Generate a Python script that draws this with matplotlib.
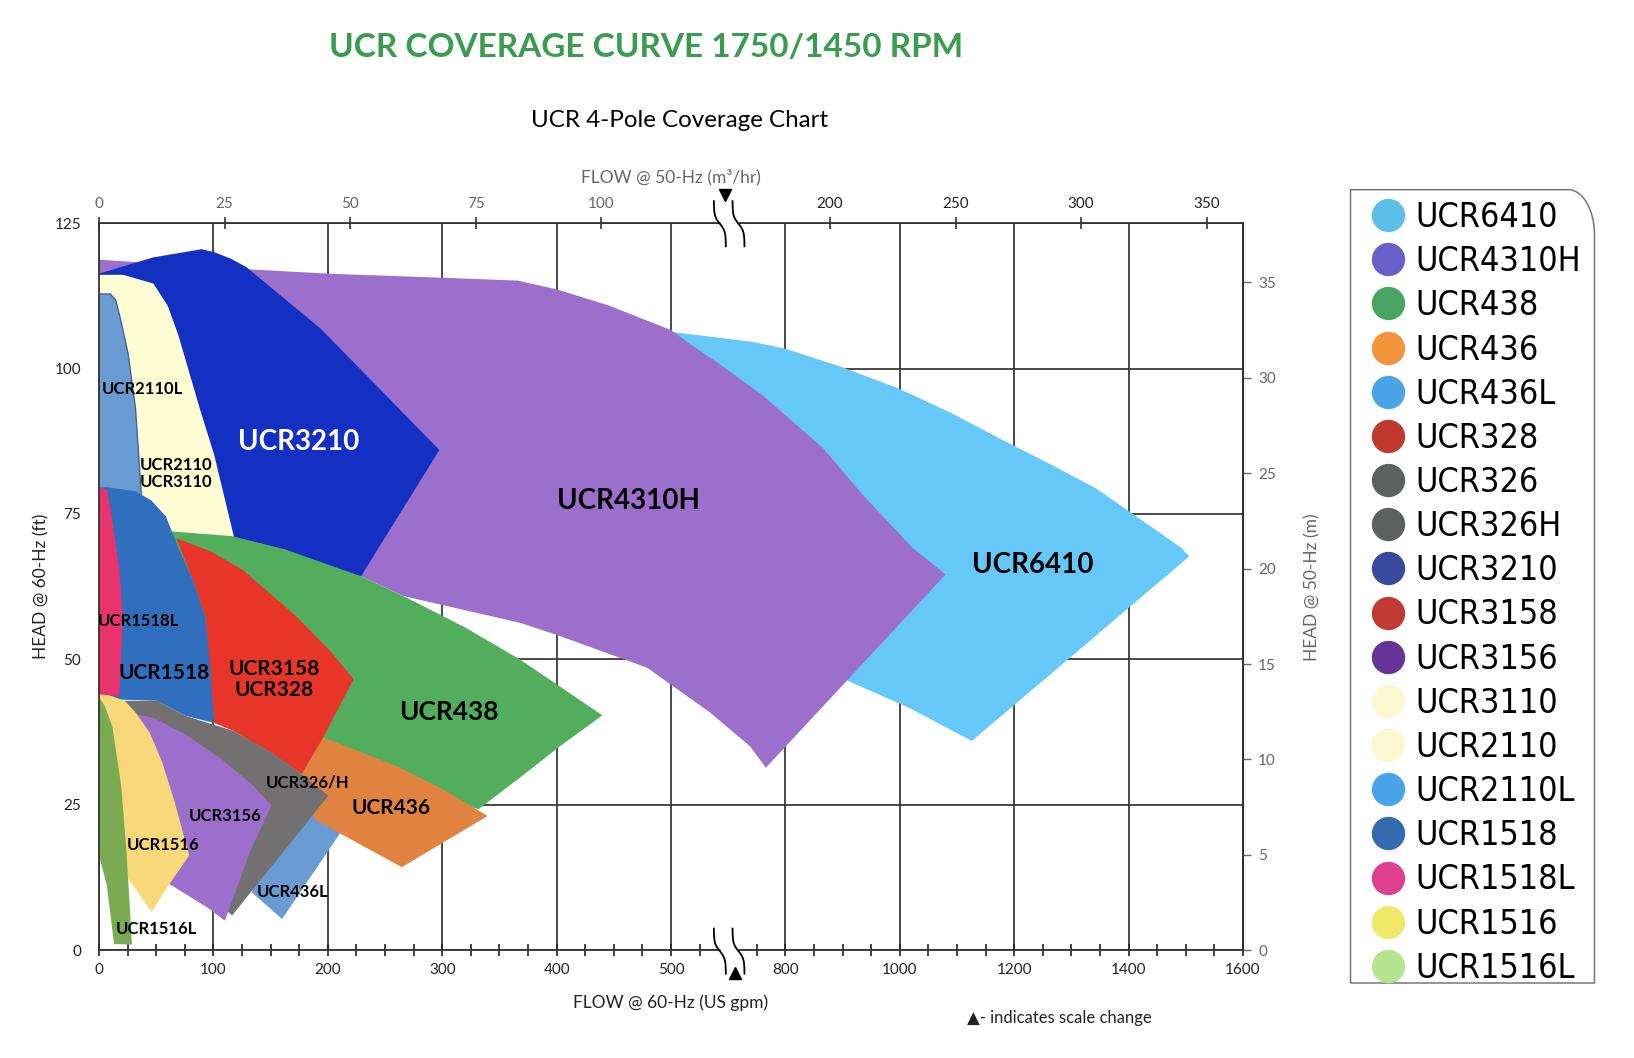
import numpy as np
import matplotlib
matplotlib.use('Agg')
import matplotlib.pyplot as plt
from matplotlib import font_manager
from matplotlib.patches import Polygon, PathPatch
from matplotlib.path import Path
from matplotlib.lines import Line2D

plt.rcParams['font.family'] = ['Lato', 'DejaVu Sans']

# ---- coverage areas, (flow gpm @60Hz, head ft @60Hz) ----
ucr6410 = [(500, 106.3), (741, 104.6), (800, 103.4), (897, 100.3), (997, 96.6),
           (1091, 92.3), (1174, 88.0), (1266, 83.4), (1343, 79.4), (1400, 75.5),
           (1492, 69.2), (1506, 67.7), (1126, 36.0), (1016, 41.7), (910, 46.3),
           (850, 50), (500, 95)]
ucr4310h = [(0, 118.7), (126, 117.1), (200, 116.3), (300, 115.6), (366, 115.1),
            (400, 113.6), (446, 110.8), (500, 106.6), (518, 104.0), (540, 101.1),
            (760, 95.4), (866, 86.3), (935, 78.3), (1022, 69.2), (1080, 64.6),
            (766, 31.4), (738, 35.1), (534, 40.9), (479, 48.6), (399, 54.3),
            (368, 56.3), (266, 60.9), (229, 64.3), (150, 75), (0, 90)]
ucr3210 = [(0, 116.3), (47.5, 119.1), (89.7, 120.5), (100.6, 120.0), (116, 118.8),
           (129, 117.4), (194, 106.8), (297.5, 86.0), (229, 64.3), (163, 67.5),
           (116, 69.5), (66, 70), (0, 70)]
ucr2110 = [(0, 116.1), (21, 116.1), (47.5, 114.6), (60, 110.8), (69.4, 105.7),
           (88.1, 93.1), (100.6, 85.2), (117.8, 71.2), (120, 69), (0, 69)]
ucr2110l = [(0, 112.8), (10, 112.8), (14.7, 111.7), (19.4, 108.0), (25.6, 102.3),
            (31.9, 93.1), (36.6, 79.4), (37.5, 76), (0, 76)]
ucr438 = [(63, 72.0), (116, 71.2), (163, 68.9), (213, 65.4), (229, 64.3),
          (270, 60.5), (320, 55.5), (368, 50.0), (440, 40.4), (403, 35.1),
          (368, 29.7), (332, 24.3), (260, 27), (180, 30), (100, 40)]
ucr436l = [(133.4, 10.0), (160, 5.4), (212, 20.5), (200, 26.6), (170, 25)]
ucr436 = [(177, 30.3), (196, 36.6), (260, 31.7), (300.6, 27.7), (339.7, 23.1),
          (264.7, 14.3), (211.6, 20.0), (188, 22.6), (180, 27)]
ucr3158 = [(67.5, 70.8), (97.5, 68.6), (125.6, 65.4), (172.5, 57.4), (203.8, 51.1),
           (222.5, 46.6), (196, 36.6), (177, 30.3), (150.6, 34.0), (117.8, 37.7),
           (100.6, 39.1), (92.8, 57.4), (81.9, 63.7)]
ucr1518 = [(0, 79.6), (6.9, 79.6), (31.9, 78.9), (45.9, 77.3), (58.4, 74.6),
           (69.4, 69.2), (81.9, 63.7), (92.8, 57.4), (97.5, 48.3), (100.6, 39.1),
           (75.6, 40.3), (50.6, 42.9), (17.8, 43.1), (0, 44)]
ucr326 = [(21, 42.9), (50.6, 42.9), (75.6, 40.3), (117.8, 37.7), (150.6, 34.0),
          (177, 30.3), (200.6, 26.6), (116.3, 6.0), (105, 8), (60, 20), (21, 40)]
ucr3156 = [(31.9, 40.6), (47.5, 40.0), (75.6, 37.1), (106.9, 32.9), (135, 28.3),
           (150.6, 24.9), (131.9, 16.9), (110, 5.1), (94.4, 7.4), (61.6, 11.4),
           (55, 20), (40, 35)]
ucr1516 = [(0, 44), (6.9, 44), (22.5, 42.9), (31.9, 40.9), (44.4, 37.4),
           (55.3, 32.3), (66.3, 25.4), (78.8, 16.3), (61.6, 11.4), (45.9, 6.6),
           (25.6, 12.3), (0, 16.3)]
ucr1518l = [(0, 79.6), (6.9, 79.2), (11.6, 74.0), (17.8, 65.4), (20.9, 56.9),
            (17.8, 43.7), (0, 44)]
ucr1516l = [(0, 43.5), (5, 42), (11.6, 38.5), (19.4, 28.3), (24, 17),
            (28.8, 1.0), (13.1, 1.1), (6.9, 11.1), (0, 16.3)]

# back to front
shapes = [ucr6410, ucr4310h, ucr3210, ucr2110, ucr2110l, ucr438, ucr436l, ucr436,
          ucr3158, ucr1518, ucr326, ucr3156, ucr1516, ucr1518l, ucr1516l]
shape_colors = ['#66c8f8', '#9b6fcb', '#1330c2', '#fffdd3', '#6a9bd2', '#52ae5d',
                '#6a9bd2', '#e08340', '#e8352a', '#2f6fbd', '#737071', '#9b6fcb',
                '#f8d97a', '#e8336e', '#7aab53']

# in-chart labels
label_text = ['UCR2110L', 'UCR2110\nUCR3110', 'UCR3210', 'UCR4310H', 'UCR6410',
              'UCR1518L', 'UCR1518', 'UCR3158\nUCR328', 'UCR438', 'UCR326/H',
              'UCR436', 'UCR3156', 'UCR1516', 'UCR436L', 'UCR1516L']
label_gpm = [38, 67, 174.5, 463, 1233, 34.5, 57.3, 152.7, 306, 182, 255.5, 110, 56.4, 169, 50]
label_ft = [96.5, 82.0, 87.4, 77.2, 66.3, 56.6, 47.6, 46.6, 41.0, 28.8, 24.5, 23.1, 18.1, 10.0, 3.6]
label_size = [12, 12, 20, 20, 20, 12, 15, 15, 19, 12, 15, 12, 12, 12, 12]
label_color = ['black'] * 2 + ['white'] + ['black'] * 12

# axes ticks
x_major = [0, 100, 200, 300, 400, 500, 800, 1000, 1200, 1400, 1600]
y_major = [0, 25, 50, 75, 100, 125]
m3h_ticks = [0, 25, 50, 75, 100, 200, 250, 300, 350]
m_ticks = [0, 5, 10, 15, 20, 25, 30, 35]
GPM_PER_M3H = 4.39
M_PER_FT = 0.3048

legend_names = ['UCR6410', 'UCR4310H', 'UCR438', 'UCR436', 'UCR436L', 'UCR328',
                'UCR326', 'UCR326H', 'UCR3210', 'UCR3158', 'UCR3156', 'UCR3110',
                'UCR2110', 'UCR2110L', 'UCR1518', 'UCR1518L', 'UCR1516', 'UCR1516L']
legend_colors = ['#5bc0e6', '#6a5fc8', '#47a561', '#f0953a', '#4aa5e8', '#c0392f',
                 '#5e6060', '#5e6060', '#384b9a', '#c03a33', '#663399', '#fdf7d2',
                 '#fdf7d2', '#4aa5e8', '#336bb0', '#de3f8f', '#f0e86a', '#b3e68f']


# broken flow axis: 550..700 gpm is cut out, above it half the scale
def fwd(g):
    g = np.asarray(g, dtype=float)
    return np.where(g <= 550, g, np.where(g >= 700, 550 + (g - 700) / 2, 550))


def inv(u):
    u = np.asarray(u, dtype=float)
    return np.where(u <= 550, u, 700 + (u - 550) * 2)


def narrow_font(size):
    # look for a condensed face for the legend, fall back to Lato
    fonts = font_manager.fontManager.ttflist
    for want in ('Liberation Sans Narrow', 'DejaVu Sans Condensed'):
        for f in fonts:
            if want in f.name or (want.startswith('DejaVu') and f.name == 'DejaVu Sans'
                                  and 'Condensed' in f.fname and f.weight in (400, 'normal')
                                  and f.style == 'normal'):
                if 'Bold' in f.fname or 'Oblique' in f.fname or 'Italic' in f.fname:
                    continue
                return font_manager.FontProperties(fname=f.fname, size=size)
    return font_manager.FontProperties(family='Lato', size=size - 3)


fig = plt.figure(figsize=(16.34, 10.58), dpi=100)
ax = fig.add_axes([0.0606, 0.1017, 0.7001, 0.6875])
ax.set_xscale('function', functions=(fwd, inv))
ax.set_xlim(0, 1600)
ax.set_ylim(0, 125)

for pts, col in zip(shapes, shape_colors):
    ec = '#44648f' if pts is ucr2110l else 'none'
    ax.add_patch(Polygon(pts, closed=True, facecolor=col, edgecolor=ec, lw=1.0))

for txt, g, f, s, c in zip(label_text, label_gpm, label_ft, label_size, label_color):
    ax.text(g, f, txt, fontsize=s, color=c, fontweight='bold', ha='center',
            va='center', linespacing=1.05)

minor = [v for v in range(25, 550, 25) if v % 100] + \
        [v for v in range(750, 1600, 50) if v % 200]
ax.set_xticks(x_major)
ax.set_xticklabels([str(v) for v in x_major])
ax.set_xticks(minor, minor=True)
ax.set_yticks(y_major)
ax.tick_params(axis='x', which='both', direction='inout', length=8, width=1.2,
               labelsize=11, pad=5, colors='#222222')
ax.tick_params(axis='y', length=0, labelsize=11, pad=13, labelcolor='#222222')
ax.grid(which='major', color='#3a3a3a', lw=1.3)
ax.set_axisbelow(True)
for sp in ax.spines.values():
    sp.set_color('#333333')
    sp.set_linewidth(1.3)

ax.set_xlabel('FLOW @ 60-Hz (US gpm)', fontsize=12.5, color='#222222')
ax.xaxis.set_label_coords(0.5, -0.06)
ax.set_ylabel('HEAD @ 60-Hz (ft)', fontsize=12.5, color='#222222')
ax.yaxis.set_label_coords(-0.043, 0.5)

# top axis in m3/hr on the same broken scale
ax_top = ax.twiny()
ax_top.set_xscale('function', functions=(fwd, inv))
ax_top.set_xlim(0, 1600)
ax_top.set_xticks([m * GPM_PER_M3H for m in m3h_ticks])
ax_top.set_xticklabels([str(m) for m in m3h_ticks])
ax_top.tick_params(axis='x', direction='inout', length=8, width=1.2, labelsize=11,
                   pad=5, color='#333333')
for lbl, m in zip(ax_top.get_xticklabels(), m3h_ticks):
    lbl.set_color('#666666' if m <= 100 else '#222222')
for sp in ax_top.spines.values():
    sp.set_visible(False)
ax_top.set_xlabel('FLOW @ 50-Hz (m³/hr)', fontsize=12.5, color='#666666')
ax_top.xaxis.set_label_coords(0.5, 1.056)

# right axis in metres
sec = ax.secondary_yaxis('right', functions=(lambda f: f * M_PER_FT,
                                             lambda m: m / M_PER_FT))
sec.set_yticks(m_ticks)
sec.tick_params(direction='out', length=6, width=1.0, labelsize=11, pad=5,
                color='#666666', labelcolor='#666666')
sec.set_ylabel('HEAD @ 50-Hz (m)', fontsize=12.5, color='#666666')
sec.yaxis.set_label_coords(1.054, 0.5, transform=ax.transAxes)

# scale-break marks: two S-shaped cuts through the top and bottom spines
t = np.linspace(0, 1, 40)
cuts = (0.5427, 0.559)
for y0 in (1.0, 0.0):
    ax.plot(cuts, [y0, y0], transform=ax.transAxes, clip_on=False,
            color='white', lw=2.5, solid_capstyle='butt', zorder=4)
    for xc in cuts:
        xs = xc + 0.0052 * np.tanh((t - 0.5) * 6) / np.tanh(3)
        ax.plot(xs, y0 + 0.03 - 0.062 * t, transform=ax.transAxes, clip_on=False,
                color='black', lw=1.3, zorder=5)
ax.plot([0.547], [1.038], marker='v', color='black', ms=9, transform=ax.transAxes,
        clip_on=False, zorder=5)
ax.plot([0.556], [-0.031], marker='^', color='black', ms=9, transform=ax.transAxes,
        clip_on=False, zorder=5)

fig.text(0.5918, 0.0374, '▲- indicates scale change', fontsize=12, color='#222222',
         va='center')

# titles
fig.text(0.3954, 0.9547, 'UCR COVERAGE CURVE 1750/1450 RPM', fontsize=24,
         fontweight='bold', color='#3a9c4e', ha='center', va='center')
fig.text(0.4158, 0.8857, 'UCR 4-Pole Coverage Chart', fontsize=17.4, color='black',
         ha='center', va='center')

# legend
handles = [Line2D([], [], ls='', marker='o', ms=23, mfc=c, mec=c) for c in legend_colors]
fig.legend(handles, legend_names, loc='upper left', bbox_to_anchor=(0.839, 0.810),
           frameon=False, borderpad=0, borderaxespad=0, handlelength=1.0,
           handletextpad=0.3, labelspacing=0.328, prop=narrow_font(24.5))

# legend frame with rounded top-right corner
x0, x1, y0, y1 = 0.8265, 0.9758, 0.0709, 0.8207
rx, ry = 26 / 1634, 45 / 1058
a = np.linspace(np.pi / 2, 0, 20)
verts = [(x0, y0), (x0, y1)] + [(x1 - rx + rx * np.cos(v), y1 - ry + ry * np.sin(v)) for v in a] + \
        [(x1, y0), (x0, y0)]
fig.patches.append(PathPatch(Path(verts), transform=fig.transFigure, fill=False,
                             edgecolor='#777777', lw=1.1))

fig.savefig('out.png', dpi=100, facecolor='white')
